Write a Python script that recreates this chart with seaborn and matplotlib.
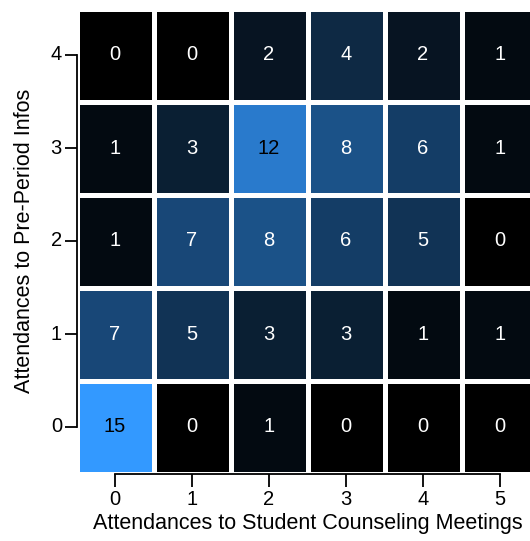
import numpy as np
import pandas as pd
import seaborn as sns
import matplotlib
matplotlib.use("Agg")
import matplotlib.pyplot as plt

# Counts of students by attendance combination
counseling_levels = [0, 1, 2, 3, 4, 5]      # columns (x)
preperiod_levels = [0, 1, 2, 3, 4]          # rows (y), bottom to top
counts_pre0 = [15, 0, 1, 0, 0, 0]
counts_pre1 = [7, 5, 3, 3, 1, 1]
counts_pre2 = [1, 7, 8, 6, 5, 0]
counts_pre3 = [1, 3, 12, 8, 6, 1]
counts_pre4 = [0, 0, 2, 4, 2, 1]

rows = [counts_pre0, counts_pre1, counts_pre2, counts_pre3, counts_pre4]
table = pd.DataFrame(rows, index=preperiod_levels, columns=counseling_levels)
# heatmap draws the first row at the top, so flip to put 0 at the bottom
table = table.iloc[::-1]

sns.set_theme(style="white")
plt.rcParams["font.family"] = ["Liberation Sans", "DejaVu Sans"]

fig = plt.figure(figsize=(5.30, 5.41), dpi=100)
ax = fig.add_axes([76.5 / 530, 1 - 473.5 / 541, 462 / 530, 465 / 541])

cmap = sns.blend_palette(["#000000", "#3399ff"], as_cmap=True)
sns.heatmap(table, ax=ax, cmap=cmap, vmin=0, vmax=15, cbar=False,
            annot=True, fmt="d", annot_kws={"fontsize": 14.5},
            linewidths=3.4, linecolor="white")

# dark text on the brightest cells, white elsewhere
for txt in ax.texts:
    val = int(txt.get_text())
    txt.set_color("black" if val >= 10 else "white")

for side in ["left", "bottom"]:
    ax.spines[side].set_visible(True)
    ax.spines[side].set_color("black")
    ax.spines[side].set_linewidth(1.3)
ax.spines["left"].set_bounds(0.5, 4.5)
ax.spines["bottom"].set_bounds(0.5, 5.5)
ax.tick_params(axis="both", which="major", length=9, width=1.3,
               color="black", labelsize=14.5, left=True, bottom=True,
               labelcolor="black")
ax.tick_params(axis="y", pad=1.5)
ax.tick_params(axis="x", pad=3)
ax.set_yticklabels([str(v) for v in preperiod_levels[::-1]], rotation=0)
ax.set_xticklabels([str(v) for v in counseling_levels], rotation=0)
ax.set_xlabel("Attendances to Student Counseling Meetings", fontsize=15.5,
              labelpad=3, color="black")
ax.set_ylabel("Attendances to Pre-Period Infos", fontsize=15.5,
              labelpad=11, color="black")

fig.savefig("out.png", dpi=100)
